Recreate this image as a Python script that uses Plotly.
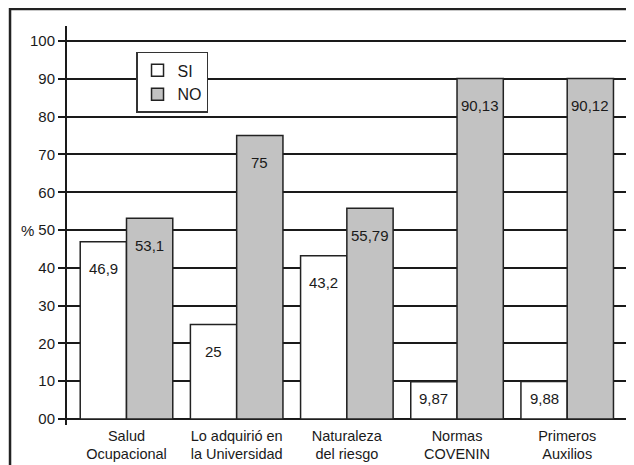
import plotly.graph_objects as go

categories = ["Salud<br>Ocupacional", "Lo adquirió en<br>la Universidad", "Naturaleza<br>del riesgo",
              "Normas<br>COVENIN", "Primeros<br>Auxilios"]
si_values = [46.9, 25, 43.2, 9.87, 9.88]
no_values = [53.1, 75, 55.79, 90.13, 90.12]
si_labels = ["46,9", "25", "43,2", "9,87", "9,88"]
no_labels = ["53,1", "75", "55,79", "90,13", "90,12"]
y_ticks = [0, 10, 20, 30, 40, 50, 60, 70, 80, 90, 100]
y_ticktext = ["00", "10", "20", "30", "40", "50", "60", "70", "80", "90", "100"]

FONT = "Liberation Sans, Arial, sans-serif"
EDGE = "#222222"
TXT = "#1a1a1a"

fig = go.Figure()
fig.add_trace(go.Bar(name="SI", x=categories, y=si_values,
                     marker=dict(color="white", line=dict(color=EDGE, width=1.5))))
fig.add_trace(go.Bar(name="NO", x=categories, y=no_values,
                     marker=dict(color="#c2c2c2", line=dict(color=EDGE, width=1.5))))

px_per_unit = 3.78
for vals, labels, shift in ((si_values, si_labels, -23.2), (no_values, no_labels, 23.2)):
    for c, v, t in zip(categories, vals, labels):
        if v * px_per_unit > 60:
            y, ys = v, -27
        else:
            y, ys = v / 2, 2
        fig.add_annotation(x=c, y=y, text=t, showarrow=False, xshift=shift, yshift=ys,
                           xanchor="center", yanchor="middle",
                           font=dict(family=FONT, size=15, color=TXT))

fig.add_annotation(xref="paper", x=-0.071, y=50, text="%", showarrow=False,
                   xanchor="center", yanchor="middle",
                   font=dict(family=FONT, size=15, color=TXT))

# outer frame
fig.add_shape(type="rect", xref="paper", yref="paper", x0=-0.1012, x1=1.05, y0=-0.2, y1=1.0426,
              line=dict(color="#222222", width=2.5))

fig.update_layout(
    width=626, height=457,
    margin=dict(l=59, r=4, t=18, b=40),
    paper_bgcolor="white", plot_bgcolor="white",
    barmode="group", bargap=0.16, bargroupgap=0,
    font=dict(family=FONT, size=15, color=TXT),
    legend=dict(x=0.1226, y=0.935, xanchor="left", yanchor="top",
                bgcolor="white", bordercolor="#333333", borderwidth=1.5,
                font=dict(family=FONT, size=16, color=TXT),
                tracegroupgap=0, itemwidth=30),
    showlegend=True,
)
fig.update_xaxes(range=[-0.54, 4.57], showgrid=False, showline=False, ticks="",
                 tickfont=dict(family=FONT, size=14.5, color=TXT))
fig.update_yaxes(range=[-1.6, 104], tickvals=y_ticks, ticktext=y_ticktext,
                 showgrid=True, gridcolor=TXT, gridwidth=2,
                 zeroline=False, showline=True, linecolor=TXT, linewidth=2,
                 ticks="outside", ticklen=7, tickwidth=2, tickcolor=TXT,
                 tickfont=dict(family=FONT, size=15, color=TXT))

fig.write_html("out.html")
